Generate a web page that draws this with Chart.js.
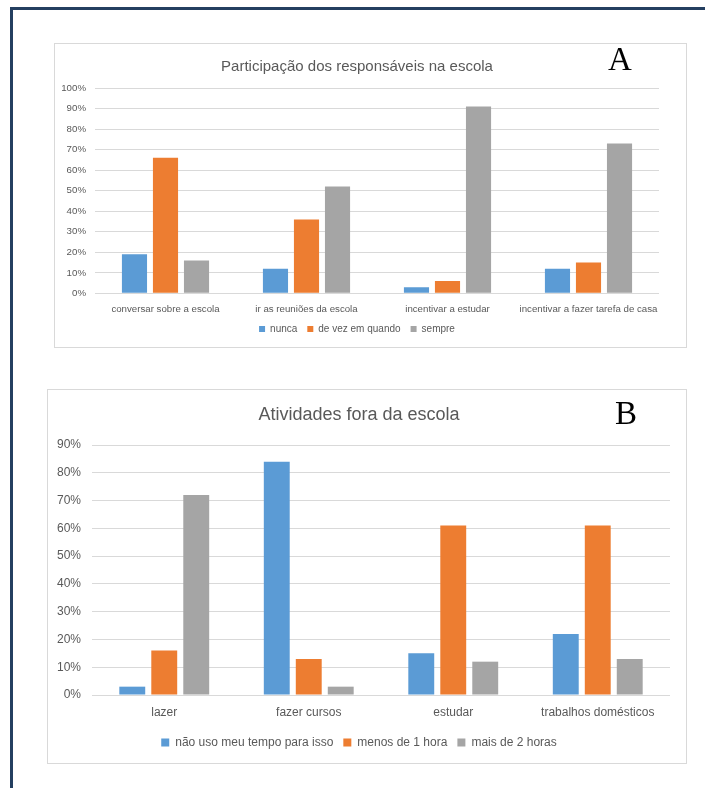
<!DOCTYPE html>
<html>
<head>
<meta charset="utf-8">
<script src="https://cdn.jsdelivr.net/npm/chart.js@4/dist/chart.umd.min.js"></script>
<style>
  html, body { margin: 0; padding: 0; background: #fff; width: 705px; height: 788px; overflow: hidden; }
  #frame { position: absolute; left: 10px; top: 7px; width: 720px; height: 800px;
           border-top: 3px solid #243f60; border-left: 3px solid #243f60; }
  .box { position: absolute; border: 1px solid #d9d9d9; box-sizing: border-box; background: #fff; }
  #boxA { left: 54px; top: 43px; width: 633px; height: 305px; }
  #boxB { left: 47px; top: 389px; width: 640px; height: 375px; }
  canvas { position: absolute; }
  #chartA { left: 55px; top: 44px; }
  #chartB { left: 48px; top: 390px; }
  .tag { position: absolute; font-family: 'Liberation Serif', 'Times New Roman', serif;
         font-size: 33px; line-height: 1; color: #000; }
  #tagA { left: 608px; top: 43px; }
  #tagB { left: 615px; top: 397px; }
</style>
</head>
<body>
<div id="frame"></div>
<div class="box" id="boxA"></div>
<div class="box" id="boxB"></div>
<canvas id="chartA" width="631" height="303"></canvas>
<canvas id="chartB" width="638" height="373"></canvas>
<div class="tag" id="tagA">A</div>
<div class="tag" id="tagB">B</div>
<script>
// Chart A: participation of guardians at school
const titleA = 'Participação dos responsáveis na escola';
const categoriesA = ['conversar sobre a escola', 'ir as reuniões da escola', 'incentivar a estudar', 'incentivar a fazer tarefa de casa'];
const seriesNamesA = ['nunca', 'de vez em quando', 'sempre'];
const nunca = [19, 12, 3, 12];
const deVezEmQuando = [66, 36, 6, 15];
const sempre = [16, 52, 91, 73];
const ticksA = [0, 10, 20, 30, 40, 50, 60, 70, 80, 90, 100];

// Chart B: activities outside school
const titleB = 'Atividades fora da escola';
const categoriesB = ['lazer', 'fazer cursos', 'estudar', 'trabalhos domésticos'];
const seriesNamesB = ['não uso meu tempo para isso', 'menos de 1 hora', 'mais de 2 horas'];
const naoUso = [3, 84, 15, 22];
const menosDe1Hora = [16, 13, 61, 61];
const maisDe2Horas = [72, 3, 12, 13];
const ticksB = [0, 10, 20, 30, 40, 50, 60, 70, 80, 90];

const seriesColors = ['#5b9bd5', '#ed7d31', '#a5a5a5'];
const FONT = "'Liberation Sans', Arial, sans-serif";
const TEXT = '#595959';
const GRID = '#d9d9d9';

function buildChart(canvas, s) {
  const datasets = s.names.map((name, i) => ({
    label: name,
    data: s.series[i],
    backgroundColor: seriesColors[i],
    borderWidth: 0,
    categoryPercentage: s.catPct,
    barPercentage: s.barPct
  }));
  return new Chart(canvas, {
    type: 'bar',
    data: { labels: s.categories, datasets },
    options: {
      responsive: false,
      animation: false,
      devicePixelRatio: 1,
      layout: { padding: { left: 0, right: s.padRight, top: 0, bottom: s.padBottom } },
      plugins: {
        tooltip: { enabled: false },
        title: {
          display: true,
          text: s.title,
          color: TEXT,
          font: { family: FONT, size: s.titleSize, weight: 'normal' },
          padding: { top: s.titlePadTop, bottom: s.titlePadBottom }
        },
        legend: {
          display: true,
          position: 'bottom',
          labels: {
            color: TEXT,
            font: { family: FONT, size: s.legendSize },
            boxWidth: s.legendBox,
            boxHeight: s.legendBox,
            padding: 10
          }
        }
      },
      scales: {
        x: {
          grid: { display: false, drawTicks: false },
          border: { display: false },
          ticks: {
            color: TEXT,
            font: { family: FONT, size: s.xSize },
            padding: s.xPad,
            maxRotation: 0,
            minRotation: 0,
            autoSkip: false
          },
          afterFit: sc => { sc.height += s.xExtra; }
        },
        y: {
          min: 0,
          max: s.ticks[s.ticks.length - 1],
          grid: { color: GRID, lineWidth: 1, drawTicks: false },
          border: { display: false },
          afterBuildTicks: sc => { sc.ticks = s.ticks.map(v => ({ value: v })); },
          ticks: {
            color: TEXT,
            font: { family: FONT, size: s.ySize },
            padding: s.yPad,
            callback: v => v + '%'
          },
          afterFit: sc => { sc.width = s.yWidth; }
        }
      }
    }
  });
}

buildChart(document.getElementById('chartA'), {
  title: titleA, categories: categoriesA, names: seriesNamesA,
  series: [nunca, deVezEmQuando, sempre], ticks: ticksA,
  catPct: 0.66, barPct: 0.81,
  padRight: 27, padBottom: 3,
  titleSize: 15, titlePadTop: 13.7, titlePadBottom: 12.3,
  legendSize: 10, legendBox: 6,
  xSize: 9.7, xPad: 10, xExtra: -11,
  ySize: 9.7, yPad: 9, yWidth: 40
});

buildChart(document.getElementById('chartB'), {
  title: titleB, categories: categoriesB, names: seriesNamesB,
  series: [naoUso, menosDe1Hora, maisDe2Horas], ticks: ticksB,
  catPct: 0.664, barPct: 0.81,
  padRight: 16, padBottom: 4.6,
  titleSize: 18, titlePadTop: 14.2, titlePadBottom: 19.2,
  legendSize: 12, legendBox: 8,
  xSize: 12, xPad: 10, xExtra: -3,
  ySize: 12, yPad: 11, yWidth: 44
});
</script>
</body>
</html>
